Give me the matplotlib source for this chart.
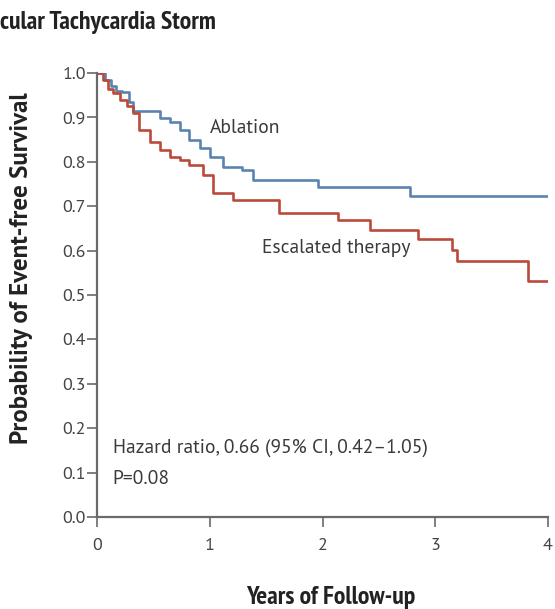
import matplotlib
matplotlib.use("Agg")
import matplotlib.pyplot as plt

# Kaplan-Meier step data (time in years, survival probability)
ablation_t = [0.0, 0.07, 0.12, 0.17, 0.22, 0.28, 0.32, 0.56, 0.65, 0.74, 0.82, 0.91, 1.00, 1.12, 1.29, 1.38, 1.96, 2.78, 4.0]
ablation_s = [1.0, 0.985, 0.970, 0.960, 0.957, 0.935, 0.914, 0.899, 0.890, 0.872, 0.849, 0.831, 0.811, 0.788, 0.781, 0.759, 0.743, 0.723, 0.723]

escalated_t = [0.0, 0.05, 0.10, 0.14, 0.20, 0.27, 0.32, 0.37, 0.47, 0.56, 0.65, 0.74, 0.82, 0.94, 1.03, 1.21, 1.61, 2.14, 2.42, 2.85, 3.15, 3.19, 3.82, 4.0]
escalated_s = [1.0, 0.985, 0.965, 0.955, 0.940, 0.925, 0.910, 0.872, 0.845, 0.827, 0.811, 0.804, 0.793, 0.770, 0.730, 0.714, 0.685, 0.669, 0.646, 0.626, 0.601, 0.577, 0.532, 0.532]

x_ticks = [0, 1, 2, 3, 4]
y_ticks = [0.0, 0.1, 0.2, 0.3, 0.4, 0.5, 0.6, 0.7, 0.8, 0.9, 1.0]

REG = ['PT Sans', 'DejaVu Sans']
NARROW = ['PT Sans Narrow', 'DejaVu Sans']
plt.rcParams['font.family'] = REG

fig = plt.figure(figsize=(5.55, 6.09), dpi=100)
ax = fig.add_axes([0.1748, 0.151, 0.8126, 0.729])

blue = '#5a84b0'
red = '#bb4a3c'
ax.step(ablation_t, ablation_s, where='post', color=blue, lw=1.9)
ax.step(escalated_t, escalated_s, where='post', color=red, lw=1.9)

ax.set_xlim(0, 4.0)
ax.set_ylim(0, 1.0)
ax.set_xticks(x_ticks)
ax.set_xticklabels([str(v) for v in x_ticks])
ax.set_yticks(y_ticks)
ax.set_yticklabels([f"{v:.1f}" for v in y_ticks])

for side in ['top', 'right']:
    ax.spines[side].set_visible(False)
for side in ['left', 'bottom']:
    ax.spines[side].set_color('#6a6a6a')
    ax.spines[side].set_linewidth(1.6)
ax.tick_params(axis='both', direction='out', length=7, width=1.2, color='#6a6a6a',
               labelsize=13, labelcolor='#444444', pad=1)
ax.tick_params(axis='x', pad=8)

tcol = '#3a3a3a'
ax.text(1.0, 0.877, 'Ablation', fontsize=14, color=tcol, va='center', ha='left')
ax.text(1.46, 0.605, 'Escalated therapy', fontsize=14, color=tcol, va='center', ha='left')
ax.text(0.14, 0.155, 'Hazard ratio, 0.66 (95% CI, 0.42\u20131.05)', fontsize=14, color=tcol, va='center', ha='left')
ax.text(0.14, 0.085, 'P=0.08', fontsize=14, color=tcol, va='center', ha='left')

ax.set_xlabel('Years of Follow-up', fontsize=18.5, fontweight='bold', color='#222222', family=NARROW)
ax.xaxis.label.set_horizontalalignment('center')
ax.xaxis.set_label_coords((331 - 97) / 451.0, -(597 - 517) / 444.0)
ax.xaxis.label.set_verticalalignment('center')

ax.set_ylabel('Probability of Event-free Survival', fontsize=18, fontweight='bold', color='#222222')
ax.yaxis.set_label_coords(-(97 - 21) / 451.0, (517 - 268) / 444.0)
ax.yaxis.label.set_verticalalignment('center')

fig.text(0.0, 1 - 23 / 609, 'cular Tachycardia Storm', fontsize=18.5, fontweight='bold',
         color='#222222', ha='left', va='center', family=NARROW)

fig.savefig('out.png', dpi=100, facecolor='white')
